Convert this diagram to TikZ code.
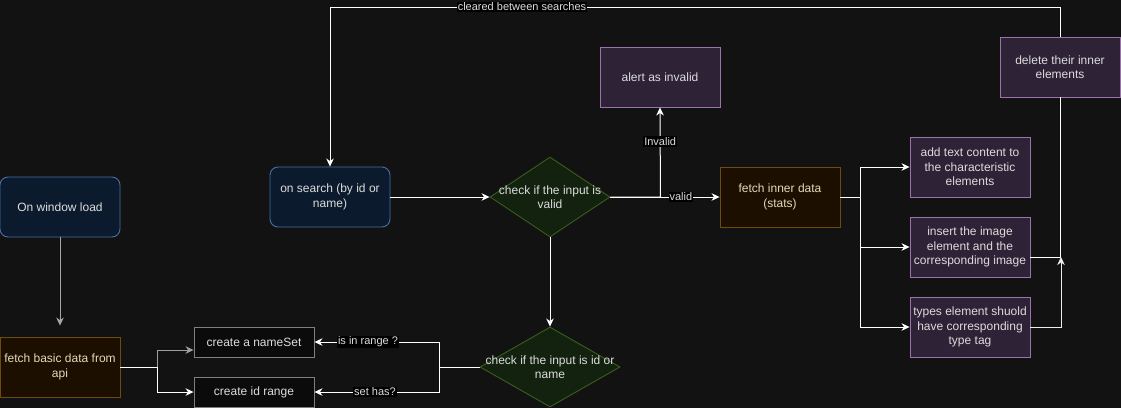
\documentclass[tikz,border=0pt]{standalone}
\usepackage{fontspec}
\setmainfont{Liberation Sans}
\usetikzlibrary{arrows.meta,shapes.geometric,calc}
\definecolor{bg}{HTML}{121212}
\definecolor{txt}{HTML}{DCDCDC}
\definecolor{bluef}{HTML}{0C1A2E}
\definecolor{bluel}{HTML}{4A6EA3}
\definecolor{brownf}{HTML}{1C0F00}
\definecolor{brownl}{HTML}{6D4A0E}
\definecolor{browntxt}{HTML}{E6D8B8}
\definecolor{purf}{HTML}{2E2236}
\definecolor{purl}{HTML}{9A73AA}
\definecolor{greenf}{HTML}{12220F}
\definecolor{greenl}{HTML}{3A5E1A}
\definecolor{blkf}{HTML}{0B0B0B}
\definecolor{blkl}{HTML}{7F7F7F}
\begin{document}
\begin{tikzpicture}[x=1pt,y=-1pt,
  base/.style={minimum width=120pt,minimum height=60pt,inner sep=0pt,align=center,
    font=\fontsize{12}{14.5}\selectfont,text=txt,line width=0.9pt},
  bluebox/.style={base,draw=bluel,fill=bluef,rounded corners=8pt},
  brownbox/.style={base,draw=brownl,fill=brownf,text=browntxt},
  purbox/.style={base,draw=purl,fill=purf},
  blkbox/.style={base,minimum height=30pt,draw=blkl,fill=blkf},
  diam/.style={diamond,draw=greenl,fill=greenf,line width=0.9pt,inner sep=0pt,
    minimum width=#1,minimum height=80pt,aspect=1.5},
  dtext/.style={align=center,font=\fontsize{12}{14.5}\selectfont,text=txt,inner sep=0pt},
  conn/.style={draw=white,line width=1pt},
  arr/.style={conn,-{Stealth[length=8pt,width=7.5pt,inset=2.5pt]}},
  lbl/.style={fill=black,text=txt,font=\fontsize{11}{12}\selectfont,inner sep=1pt}]
\useasboundingbox (0,0) rectangle (1121,408);
\fill[bg] (0,0) rectangle (1121,408);

% nodes
\node[bluebox] (load) at (60,207) {On window load};
\node[brownbox] (fetchb) at (60,367) {fetch basic data from\\api};
\node[blkbox] (nameset) at (254,342) {create a nameSet};
\node[blkbox] (idrange) at (254,392) {create id range};
\node[bluebox] (search) at (330,197) {on search (by id or\\name)};
\node[diam=120pt] (valid) at (550,197) {};
\node[dtext] (validt) at (550,197) {check if the input is\\valid};
\node[diam=140pt] (idname) at (550,367) {};
\node[dtext] (idnamet) at (550,367) {check if the input is id or\\name};
\node[purbox] (alert) at (660,77) {alert as invalid};
\node[brownbox] (inner) at (780,197) {fetch inner data\\(stats)};
\node[purbox] (addtext) at (970,167) {add text content to\\the characteristic\\elements};
\node[purbox] (insert) at (970,247) {insert the image\\element and the\\corresponding image};
\node[purbox] (types) at (970,327) {types element shuold\\have corresponding\\type tag};
\node[purbox] (delete) at (1060,67) {delete their inner\\elements};
\coordinate (ytop) at (0,7);
\coordinate (tip) at (1061,257);

% connectors
\draw[arr,draw=gray!70] (load.south) -- ([yshift=11pt]fetchb.north);
\draw[arr,draw=gray!75] (fetchb.east) -- ++(37,0) |- ($(nameset.west)+(0,8)$);
\draw[arr] (fetchb.east) -- ++(37,0) |- (idrange.west);
\draw[arr] (search.east) -- (valid.west);
\draw[arr] (valid.east) -- node[lbl,pos=0.645]{valid} (inner.west);
\draw[arr] (valid.east) -- ++(50,0) -- node[lbl,pos=0.62]{Invalid} (alert.south);
\draw[arr] (valid.south) -- (idname.north);
\draw[arr] (idname.west) -- ++(-40,0) |- node[lbl,pos=0.786]{is in range ?} (nameset.east);
\draw[arr] (idname.west) -- ++(-40,0) |- node[lbl,pos=0.758]{set has?} (idrange.east);
\draw[arr] (inner.east) -- ++(20,0) |- (addtext.west);
\draw[arr] (inner.east) -- ++(20,0) |- (insert.west);
\draw[arr] (inner.east) -- ++(20,0) |- (types.west);
\draw[conn] ($(insert.east)+(0,10)$) -| (delete.south);
\draw[arr,draw=white!85!gray] (types.east) -| (tip);
\draw[arr] (delete.north) -- (delete.north |- ytop) -- node[lbl,pos=0.737]{cleared between searches} (search.north |- ytop) -- (search.north);
\end{tikzpicture}
\end{document}
